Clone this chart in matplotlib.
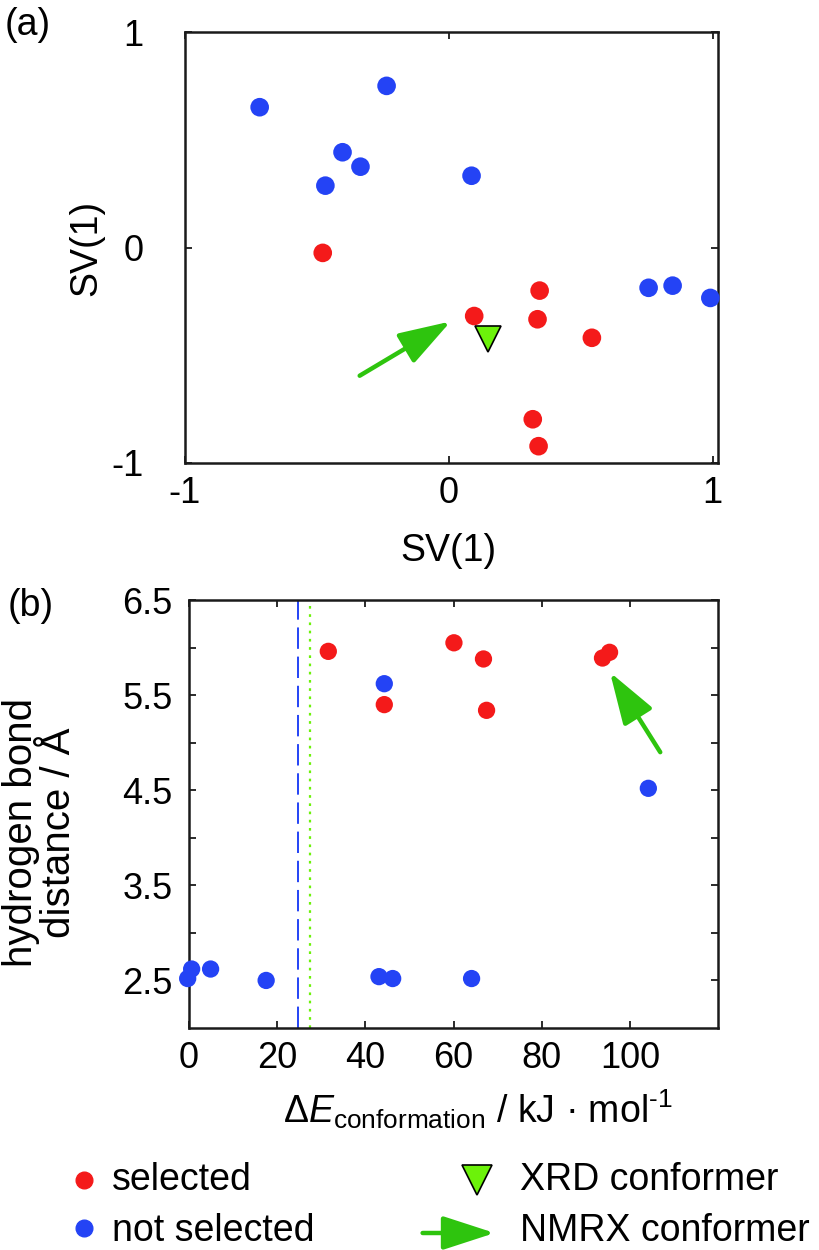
import matplotlib

matplotlib.use("Agg")
import matplotlib.pyplot as plt
from matplotlib.lines import Line2D

plt.rcParams["font.family"] = ["Liberation Sans", "DejaVu Sans"]
plt.rcParams["mathtext.fontset"] = "custom"
plt.rcParams["mathtext.rm"] = "Liberation Sans"
plt.rcParams["mathtext.it"] = "Liberation Sans:italic"
plt.rcParams["axes.unicode_minus"] = False

RED = "#f41a1a"
BLUE = "#2443f5"
GREEN = "#2ec40e"
LIME = "#6cf20a"
SPINE = "#1a1a1a"

# panel (a): SV(1) projection
sel_sv_x = [-0.478, 0.096, 0.344, 0.336, 0.542, 0.318, 0.340]
sel_sv_y = [-0.025, -0.318, -0.200, -0.333, -0.419, -0.797, -0.922]
not_sv_x = [-0.717, -0.236, -0.403, -0.335, -0.468, 0.086, 0.757, 0.848, 0.991]
not_sv_y = [0.651, 0.750, 0.442, 0.375, 0.287, 0.333, -0.187, -0.177, -0.234]
xrd_sv = (0.148, -0.426)
nmrx_arrow_a = ((-0.338, -0.595), (0.007, -0.343))  # (tail, head)

# panel (b): conformation energy vs hydrogen bond distance
sel_energy = [31.6, 60.1, 66.8, 93.8, 95.4, 44.3, 67.5]
sel_hbond = [5.96, 6.05, 5.88, 5.89, 5.95, 5.40, 5.34]
not_energy = [44.3, 104.2, -0.3, 0.6, 4.9, 17.5, 43.1, 46.2, 64.1]
not_hbond = [5.62, 4.52, 2.52, 2.62, 2.62, 2.50, 2.54, 2.52, 2.52]
cutoff_blue = 24.8
cutoff_green = 27.5
nmrx_arrow_b = ((106.9, 4.90), (95.5, 5.74))

TICK_FS = 26
LABEL_FS = 27

fig = plt.figure(figsize=(8.19, 12.5), dpi=100)


def style_axes(ax):
    for side in ("left", "right", "top", "bottom"):
        ax.spines[side].set_color(SPINE)
        ax.spines[side].set_linewidth(1.8)
    ax.tick_params(direction="in", length=5, width=1.3, color=SPINE,
                   top=True, right=True, labelsize=TICK_FS)


def nmrx_arrow(ax, tail, head):
    ax.annotate("", xy=head, xytext=tail,
                arrowprops=dict(arrowstyle="-|>,head_length=0.8,head_width=0.26",
                                color=GREEN, lw=3.2, mutation_scale=40,
                                shrinkA=0, shrinkB=0))


# ---- (a)
ax1 = fig.add_axes([185 / 819, 1 - 463 / 1250, 533 / 819, 431 / 1250])
style_axes(ax1)
ax1.scatter(not_sv_x, not_sv_y, s=180, color=BLUE, edgecolors="none", zorder=3, clip_on=False)
ax1.scatter(sel_sv_x, sel_sv_y, s=180, color=RED, edgecolors="none", zorder=3, clip_on=False)
ax1.plot(*xrd_sv, marker="v", markersize=19, markerfacecolor=LIME,
         markeredgecolor="black", markeredgewidth=1.2, linestyle="none", zorder=4)
nmrx_arrow(ax1, *nmrx_arrow_a)
ax1.set_xlim(-1, 1.02)
ax1.set_ylim(-1, 1)
ax1.set_xticks([-1, 0, 1])
ax1.set_yticks([-1, 0, 1])
ax1.tick_params(axis="y", pad=30)
ax1.tick_params(axis="x", pad=9)
ax1.set_xlabel("SV(1)", fontsize=LABEL_FS)
ax1.xaxis.set_label_coords(0.495, -0.205)
ax1.xaxis.label.set_va("center")
ax1.set_ylabel("SV(1)", fontsize=LABEL_FS)
ax1.yaxis.set_label_coords(-0.186, 0.5)
ax1.yaxis.label.set_va("center")

# ---- (b)
ax2 = fig.add_axes([189 / 819, 1 - 1028 / 1250, 529 / 819, 428 / 1250])
style_axes(ax2)
ax2.axvline(cutoff_blue, color=BLUE, lw=1.4, dashes=(11, 4), zorder=1)
ax2.axvline(cutoff_green, color=LIME, lw=1.6, dashes=(1.2, 2.5), zorder=1)
ax2.scatter(not_energy, not_hbond, s=155, color=BLUE, edgecolors="none", zorder=3, clip_on=False)
ax2.scatter(sel_energy, sel_hbond, s=155, color=RED, edgecolors="none", zorder=3, clip_on=False)
nmrx_arrow(ax2, *nmrx_arrow_b)
ax2.set_xlim(0, 120)
ax2.set_ylim(2, 6.5)
ax2.set_xticks([0, 20, 40, 60, 80, 100])
yt = [2.5, 3.0, 3.5, 4.0, 4.5, 5.0, 5.5, 6.0, 6.5]
ax2.set_yticks(yt)
ax2.set_yticklabels([f"{v:.1f}" if (v * 2) % 2 == 1 else "" for v in yt])
ax2.tick_params(axis="y", pad=12)
ax2.tick_params(axis="x", pad=9)
ax2.set_xlabel(r"$\Delta\mathit{E}_{\mathrm{conformation}}$ / kJ · mol$^{\text{-1}}$", fontsize=LABEL_FS)
ax2.xaxis.set_label_coords(0.546, -0.19)
ax2.xaxis.label.set_va("center")
ax2.set_ylabel("hydrogen bond\ndistance / Å", fontsize=29, linespacing=1.0)
ax2.yaxis.set_label_coords(-0.282, 0.456)
ax2.yaxis.label.set_va("center")

# panel letters
fig.text(5 / 819, 1 - 25 / 1250, "(a)", fontsize=LABEL_FS, va="center", ha="left")
fig.text(8 / 819, 1 - 606 / 1250, "(b)", fontsize=LABEL_FS, va="center", ha="left")

# ---- legend
lax = fig.add_axes([0, 0, 1, 125 / 1250])
lax.set_axis_off()
lax.set_xlim(0, 1)
lax.set_ylim(0, 1)
mark1, mark2, arrow_row = 0.56, 0.176, 0.136
base1, base2 = 0.48, 0.07
lax.add_line(Line2D([0.1026], [mark1], marker="o", markersize=12, color=RED, linestyle="none"))
lax.add_line(Line2D([0.1026], [mark2], marker="o", markersize=12, color=BLUE, linestyle="none"))
lax.add_line(Line2D([0.582], [mark1], marker="v", markersize=21, markerfacecolor=LIME,
                    markeredgecolor="black", markeredgewidth=1.2, linestyle="none"))
nmrx_arrow(lax, (0.516, arrow_row), (0.604, arrow_row))
for x, y, txt in ((0.137, base1, "selected"), (0.137, base2, "not selected"),
                  (0.635, base1, "XRD conformer"), (0.635, base2, "NMRX conformer")):
    lax.text(x, y, txt, fontsize=LABEL_FS, va="baseline", ha="left")

fig.savefig("out.png", dpi=100, facecolor="white")
